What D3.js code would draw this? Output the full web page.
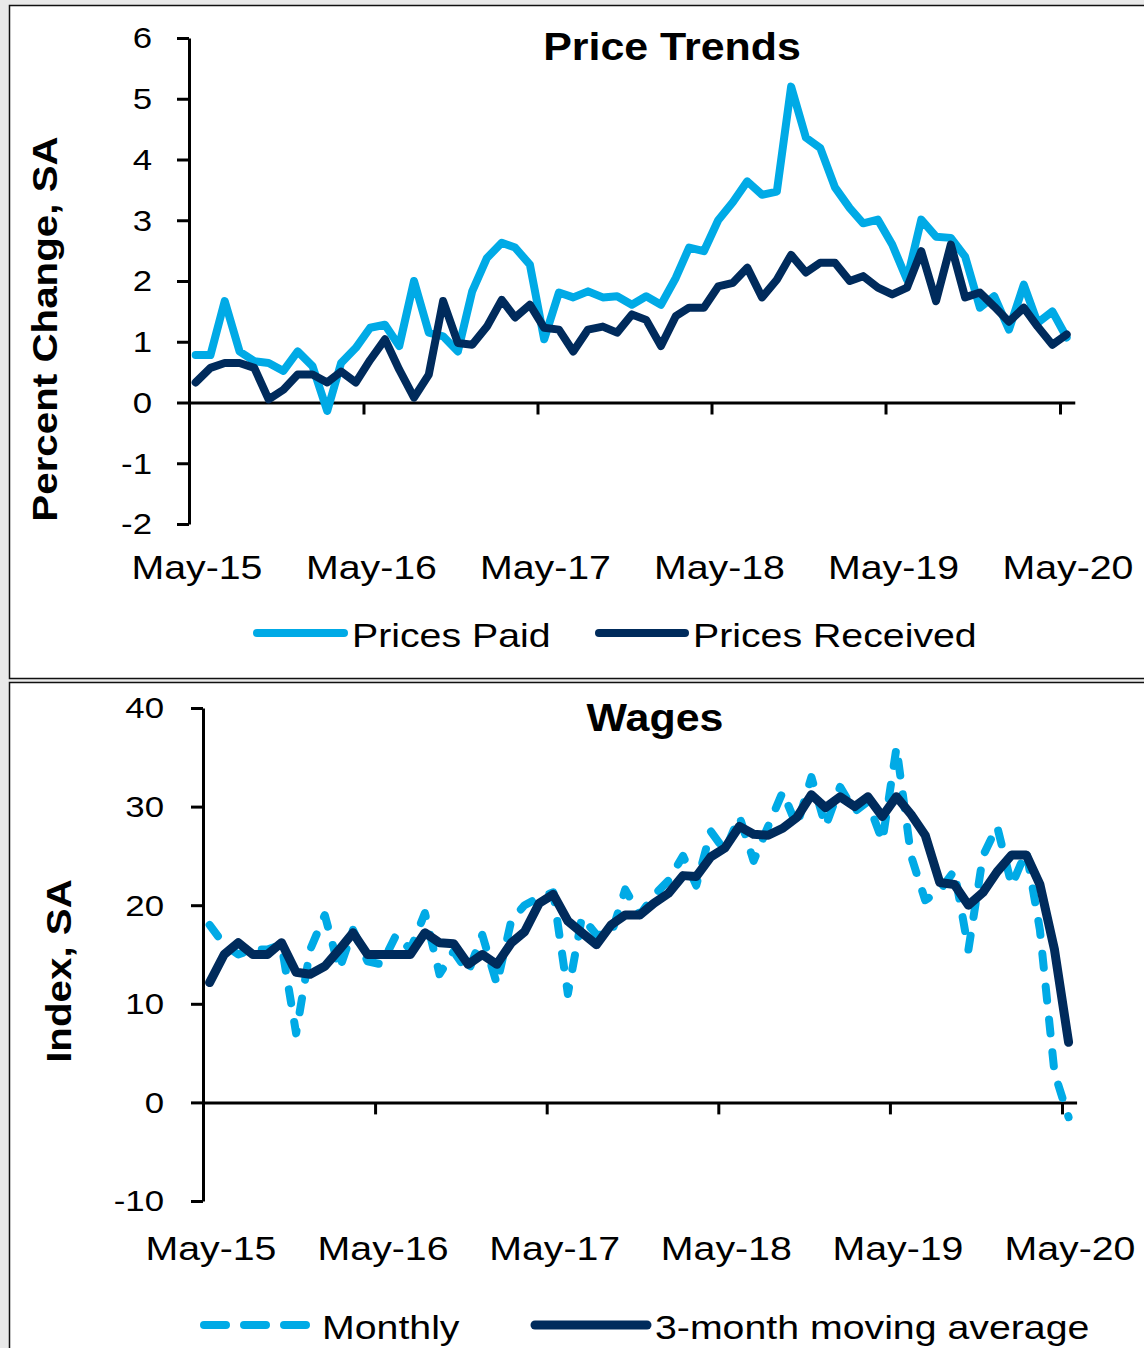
<!DOCTYPE html>
<html>
<head>
<meta charset="utf-8">
<script src="https://cdn.jsdelivr.net/npm/d3@7"></script>
<style>
  body { margin: 0; background: #e9e9e9; }
  svg { display: block; font-family: "Liberation Sans", Arial, sans-serif; }
</style>
</head>
<body>
<div id="chart"></div>
<script>
// months May-15 .. May-20 (61 monthly obs)
var startMonth = new Date(2015, 4, 1),
    endMonth = new Date(2020, 5, 1);

var tickLabels = ['May-15', 'May-16', 'May-17', 'May-18', 'May-19', 'May-20'];

// Price Trends, percent change SA
var pricesPaid = [0.78, 0.78, 1.67, 0.84, 0.68, 0.65, 0.52, 0.84, 0.6, -0.14,
  0.65, 0.9, 1.23, 1.28, 0.93, 2.0, 1.15, 1.09, 0.84, 1.83,
  2.38, 2.63, 2.55, 2.27, 1.04, 1.81, 1.73, 1.83, 1.73, 1.75,
  1.61, 1.75, 1.61, 2.05, 2.55, 2.49, 3.0, 3.3, 3.64, 3.42,
  3.47, 5.2, 4.36, 4.19, 3.54, 3.2, 2.95, 3.01, 2.6, 2.02,
  3.01, 2.73, 2.71, 2.4, 1.56, 1.75, 1.2, 1.94, 1.31, 1.5, 1.07];

var pricesReceived = [0.33, 0.57, 0.65, 0.65, 0.57, 0.05, 0.21, 0.46, 0.46, 0.33,
  0.51, 0.33, 0.7, 1.04, 0.54, 0.08, 0.46, 1.67, 0.98, 0.95,
  1.25, 1.69, 1.4, 1.61, 1.23, 1.2, 0.84, 1.2, 1.25, 1.15,
  1.45, 1.36, 0.93, 1.42, 1.56, 1.56, 1.91, 1.97, 2.22, 1.73,
  2.02, 2.43, 2.14, 2.3, 2.3, 2.0, 2.08, 1.89, 1.78, 1.89,
  2.49, 1.67, 2.6, 1.73, 1.81, 1.58, 1.33, 1.56, 1.25, 0.95, 1.12];

// Wages, index SA
var wagesMonthly = [18, 16, 15, 15.5, 15.5, 16, 7, 15.5, 19, 13.5,
  17.5, 14.3, 14, 17, 15.5, 19.2, 13, 15.3, 13.2, 17,
  12, 18.5, 20, 20.8, 21.3, 11, 18.8, 17, 17, 21.6,
  19, 21, 22.5, 25, 22, 27.5, 25.5, 29, 24.5, 28,
  31.5, 28, 33, 28, 32, 29.5, 30.5, 26.5, 36, 25,
  20.5, 21.5, 23.5, 15.5, 25, 28, 22, 25.5, 17.5, 3, -1.5];

var wagesAvg = [12.15, 15, 16.2, 15, 15, 16.2, 13.2, 13, 13.8, 15.5,
  17.2, 15, 15, 15, 15, 17.2, 16.2, 16.1, 14, 15,
  14, 16.2, 17.3, 20.2, 21.1, 18.4, 17.2, 16, 18, 19,
  19, 20.2, 21.2, 23, 22.9, 24.9, 25.8, 28, 27.2, 27.1,
  27.8, 28.9, 31.2, 29.9, 31, 30, 31, 29, 31, 29.2,
  27.1, 22.3, 22.1, 20, 21.3, 23.4, 25.1, 25.1, 22.1, 15.5, 6.1];

var lightBlue = '#00aae6',
    navy = '#002b5c';

var months = d3.timeMonth.range(startMonth, d3.timeMonth.offset(startMonth, pricesPaid.length));
var yearTicks = d3.timeYear.every(1).range(new Date(2015, 0, 1), new Date(2021, 0, 1))
    .map(function(d) { return new Date(d.getFullYear(), 4, 1); });

var svg = d3.select('#chart').append('svg')
    .attr('width', 1144)
    .attr('height', 1348);

// panels
svg.append('rect').attr('x', 9.5).attr('y', 5.5).attr('width', 1150).attr('height', 673)
    .attr('fill', 'white').attr('stroke', '#111').attr('stroke-width', 1.5);
svg.append('rect').attr('x', 9.5).attr('y', 682.5).attr('width', 1150).attr('height', 700)
    .attr('fill', 'white').attr('stroke', '#111').attr('stroke-width', 1.5);

function txt(g, x, y, s, o) {
  var t = g.append('text')
      .attr('transform', 'translate(' + x + ',' + y + ')' + (o.rot ? ' rotate(-90)' : '') + ' scale(' + (o.sx || 1) + ',1)')
      .attr('text-anchor', o.anchor || 'middle')
      .style('font-size', o.size + 'px')
      .style('font-weight', o.bold ? 'bold' : 'normal')
      .attr('fill', '#000')
      .text(s);
  if (o.dy) t.attr('dy', o.dy);
  return t;
}

function panel(cfg) {
  var g = svg.append('g');

  var x = d3.scaleTime()
      .domain([startMonth, endMonth])
      .range([cfg.x0, cfg.x0 + cfg.yearW * 5 * (endMonth - startMonth) / (new Date(2020, 4, 1) - startMonth)]);
  var y = d3.scaleLinear().domain(cfg.yDomain).range([cfg.yBottom, cfg.yTop]);

  // y axis
  g.append('g')
      .attr('transform', 'translate(' + cfg.x0 + ',0)')
      .call(d3.axisLeft(y).tickValues(cfg.yTicks).tickSize(12).tickSizeOuter(0).tickFormat(''))
      .call(function(a) {
        a.selectAll('path, line').attr('stroke', '#000').attr('stroke-width', 3);
      });

  cfg.yTicks.forEach(function(v) {
    txt(g, cfg.yLabelX, y(v), String(v), { size: 29, sx: 1.2, anchor: 'end', dy: '0.36em' });
  });

  // x axis at zero
  g.append('g')
      .attr('transform', 'translate(0,' + y(0) + ')')
      .call(d3.axisBottom(x).tickValues(yearTicks.slice(1)).tickSize(12).tickSizeOuter(0).tickFormat(''))
      .call(function(a) {
        a.selectAll('path, line').attr('stroke', '#000').attr('stroke-width', 3);
      });

  yearTicks.forEach(function(d, i) {
    txt(g, x(d) + 8, cfg.xLabelY, tickLabels[i], { size: 33, sx: 1.19 });
  });

  // title + y title
  txt(g, cfg.titleX, cfg.titleY, cfg.title, { size: 38, bold: true, sx: 1.13 });
  txt(g, cfg.yTitleX, cfg.yTitleY, cfg.yTitle, { size: 36, bold: true, sx: 1.12, rot: true });

  var line = d3.line()
      .x(function(d, i) { return x(d3.timeDay.offset(months[i], 14)); })
      .y(function(d) { return y(d); });

  cfg.series.forEach(function(s) {
    g.append('path')
        .datum(s.values)
        .attr('d', line)
        .attr('fill', 'none')
        .attr('stroke', s.color)
        .attr('stroke-width', s.width)
        .attr('stroke-linejoin', 'round')
        .attr('stroke-linecap', 'round')
        .attr('stroke-dasharray', s.dash || null);
  });

  // legend
  cfg.series.forEach(function(s) {
    g.append('line')
        .attr('x1', s.lx).attr('x2', s.lx + s.lw)
        .attr('y1', cfg.legendY).attr('y2', cfg.legendY)
        .attr('stroke', s.color)
        .attr('stroke-width', s.width)
        .attr('stroke-linecap', 'round')
        .attr('stroke-dasharray', s.legendDash || null);
    txt(g, s.lx + s.lw + 8, cfg.legendY + 14, s.name, { size: 33, sx: 1.19, anchor: 'start' });
  });
}

panel({
  x0: 189, yearW: 174.2,
  yDomain: [-2, 6], yTop: 38, yBottom: 524,
  yTicks: [-2, -1, 0, 1, 2, 3, 4, 5, 6], yLabelX: 152,
  xLabelY: 579,
  title: 'Price Trends', titleX: 672, titleY: 60,
  yTitle: 'Percent Change, SA', yTitleX: 57, yTitleY: 329,
  legendY: 633,
  series: [
    { name: 'Prices Paid', values: pricesPaid, color: lightBlue, width: 8, lx: 257, lw: 87 },
    { name: 'Prices Received', values: pricesReceived, color: navy, width: 8, lx: 599, lw: 86 }
  ]
});

panel({
  x0: 203, yearW: 171.8,
  yDomain: [-10, 40], yTop: 708, yBottom: 1201,
  yTicks: [-10, 0, 10, 20, 30, 40], yLabelX: 164,
  xLabelY: 1260,
  title: 'Wages', titleX: 655, titleY: 731,
  yTitle: 'Index, SA', yTitleX: 71, yTitleY: 971,
  legendY: 1325,
  series: [
    { name: 'Monthly', values: wagesMonthly, color: lightBlue, width: 8, dash: '14,19',
      legendDash: '22,18', lx: 204, lw: 110 },
    { name: '3-month moving average', values: wagesAvg, color: navy, width: 9, lx: 535, lw: 112 }
  ]
});
</script>
</body>
</html>
